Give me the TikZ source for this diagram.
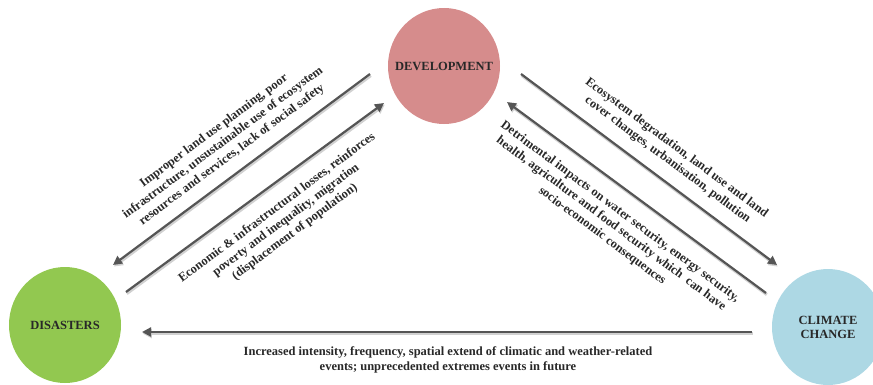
\documentclass[tikz,border=0pt]{standalone}
\usepackage{fontspec}
\setmainfont{Liberation Serif}
\usepackage{xcolor}
\usepackage{tikz}
\usetikzlibrary{shapes,arrows.meta,positioning,calc}
\definecolor{DevPink}{RGB}{214, 140, 140}
\definecolor{DisGreen}{RGB}{146, 200, 80}
\definecolor{ClimBlue}{RGB}{173, 216, 228}
\definecolor{ArrowGray}{RGB}{85, 85, 85}
\definecolor{TextGray}{RGB}{40, 40, 40}
\tikzstyle{hub} = [ellipse, minimum width=112pt, minimum height=116pt, inner xsep=-14pt, inner ysep=0pt, align=center, text=TextGray, font=\bfseries\fontsize{12.5}{14}\selectfont]
\tikzstyle{note} = [align=center, inner sep=0pt, text=TextGray, font=\bfseries\fontsize{12.5}{15}\selectfont]
\tikzstyle{arrow} = [line width=2.2pt, draw=ArrowGray, -{Triangle[length=9pt,width=9pt]}, preaction={draw=black!18, line width=3pt, transform canvas={shift={(0.8pt,-1.6pt)}}}]

\begin{document}
\begin{tikzpicture}[x=1pt, y=1pt]

\useasboundingbox (0,0) rectangle (873,384);

% Cercles
\node (dev) [hub, fill=DevPink] at (444,318) {DEVELOPMENT};
\node (dis) [hub, fill=DisGreen] at (65,59) {DISASTERS};
\node (clim) [hub, fill=ClimBlue] at (828,57) {CLIMATE\\CHANGE};

% Flèches
\draw [arrow] ($(dev)+(-74,-8)$) -- ($(dis)+(48,60)$);
\draw [arrow] ($(dis)+(61,33)$) -- ($(dev)+(-60,-37)$);
\draw [arrow] ($(dev)+(77,-8)$) -- ($(clim)+(-51,62)$);
\draw [arrow] ($(clim)+(-62,34)$) -- ($(dev)+(63,-36)$);
\draw [arrow] ($(clim)+(-76,-5)$) -- ($(dis)+(77,-7)$);

% Textes
\node [note, rotate=36.7] at (223,241) {Improper land use planning, poor\\infrastructure, unsustainable use of ecosystem\\resources and services, lack of social safety};
\node [note, rotate=36.7] at (286,164) {Economic \& infrastructural losses, reinforces\\poverty and inequality, migration\\(displacement of population)};
\node [note, rotate=-36.7] at (672,230) {Ecosystem degradation, land use and land\\cover changes, urbanisation, pollution};
\node [note, rotate=-36.7] at (611,160) {Detrimental impacts on water security, energy security,\\health, agriculture and food security which~~can have\\socio-economic consequences};
\node [note] at (448,24) {Increased intensity, frequency, spatial extend of climatic and weather-related\\events; unprecedented extremes events in future};

\end{tikzpicture}
\end{document}
